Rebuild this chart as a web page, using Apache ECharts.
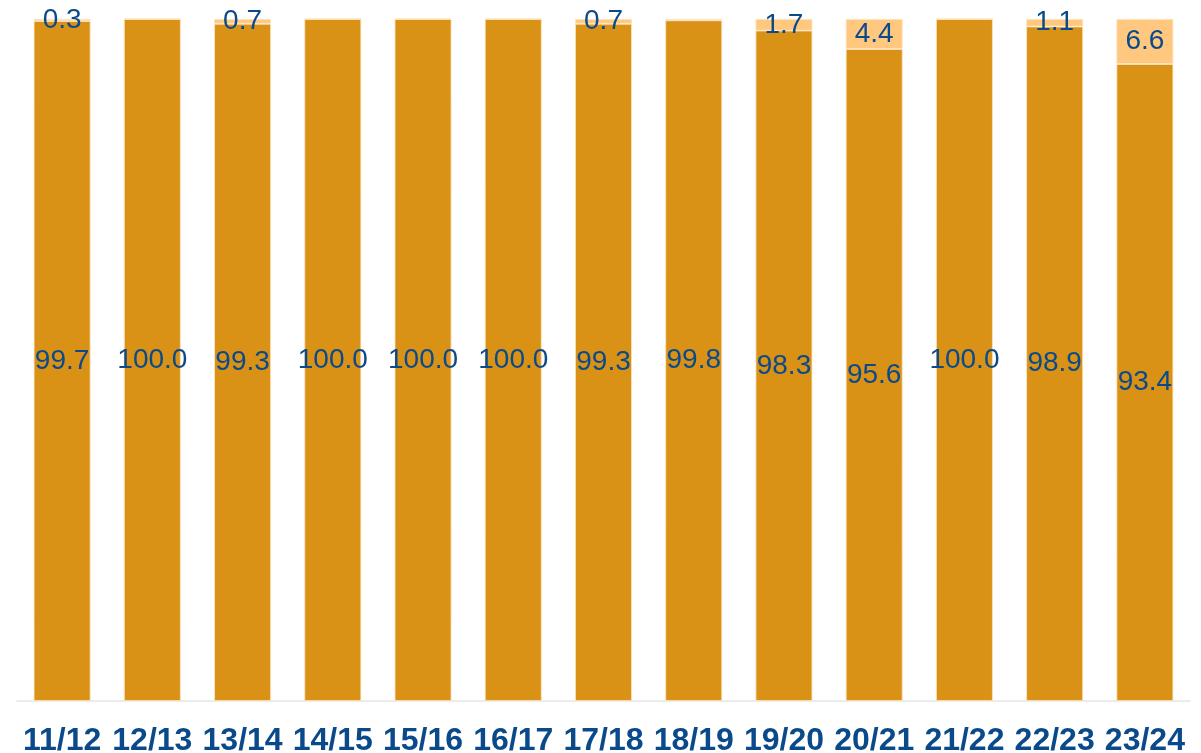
<!DOCTYPE html>
<html>
<head>
<meta charset="utf-8">
<script src="https://cdn.jsdelivr.net/npm/echarts@6/dist/echarts.min.js"></script>
<style>
  html, body { margin: 0; padding: 0; background: #fff; }
  #chart { width: 1201px; height: 753px; }
</style>
</head>
<body>
<div id="chart"></div>
<script>
var categories = ['11/12', '12/13', '13/14', '14/15', '15/16', '16/17', '17/18', '18/19', '19/20', '20/21', '21/22', '22/23', '23/24']
var baseValues = [99.7, 100.0, 99.3, 100.0, 100.0, 100.0, 99.3, 99.8, 98.3, 95.6, 100.0, 98.9, 93.4]
var topValues = [0.3, 0, 0.7, 0, 0, 0, 0.7, 0.2, 1.7, 4.4, 0, 1.1, 6.6]

var chart = echarts.init(document.getElementById('chart'))
var labelColor = '#0B4A8A'

var option = {
    animation: false,
    textStyle: { fontFamily: 'Liberation Sans, Arial, sans-serif' },
    grid: {
        top: 19,
        bottom: 52,
        left: 17,
        right: 11,
        outerBoundsMode: 'none'
    },
    xAxis: {
        type: 'category',
        data: categories,
        axisLine: {
            show: true,
            lineStyle: { color: '#E6E6E6', width: 1.5 }
        },
        axisTick: { show: false },
        axisLabel: {
            color: labelColor,
            fontSize: 32,
            fontWeight: 'bold',
            margin: 24,
            interval: 0
        }
    },
    yAxis: {
        type: 'value',
        min: 0,
        max: 100,
        show: false,
        splitLine: { show: false }
    },
    series: [{
        type: 'bar',
        stack: 'total',
        data: baseValues,
        barWidth: '63%',
        itemStyle: {
            color: '#D99216',
            borderColor: '#FBE3BE',
            borderWidth: 0.8
        },
        label: {
            show: true,
            position: 'inside',
            color: labelColor,
            fontSize: 28,
            formatter: function (p) { return p.value.toFixed(1) }
        }
    }, {
        type: 'bar',
        stack: 'total',
        data: topValues,
        barWidth: '63%',
        itemStyle: {
            color: '#FFC87E',
            borderColor: '#FBE3BE',
            borderWidth: 0.8
        },
        label: {
            show: true,
            position: 'inside',
            color: labelColor,
            fontSize: 28,
            formatter: function (p) { return p.value >= 0.3 ? p.value.toFixed(1) : '' }
        }
    }]
}

chart.setOption(option)
</script>
</body>
</html>
